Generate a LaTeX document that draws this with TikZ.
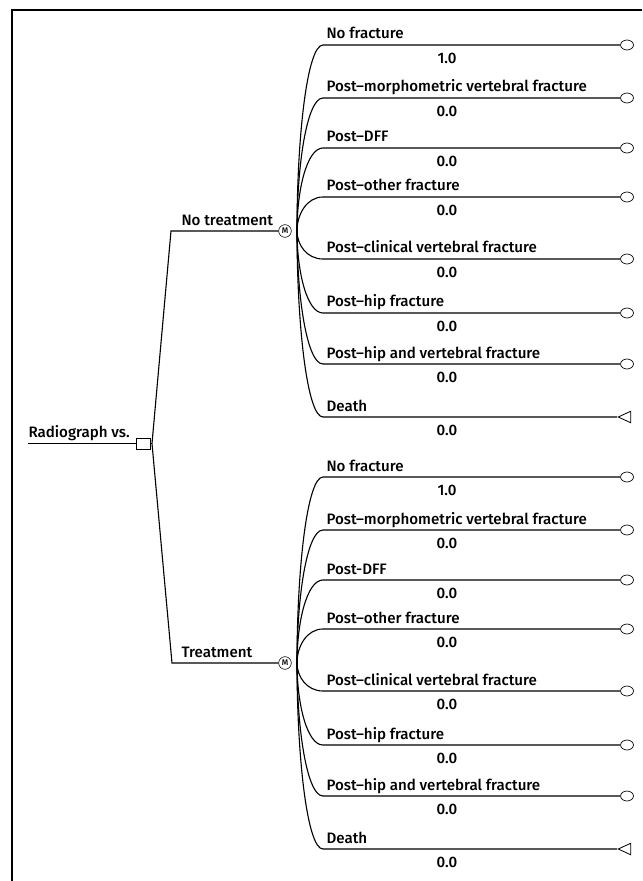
\documentclass[tikz,border=0pt]{standalone}
\usepackage{fontspec}
\setmainfont{Fira Sans}[UprightFont={* Medium}]
\usetikzlibrary{shapes.geometric}
\tikzset{
  lbl/.style={anchor=base west, inner sep=0pt, font=\fontsize{12.9}{15}\selectfont},
  val/.style={anchor=base, inner sep=0pt, font=\fontsize{12.9}{15}\selectfont},
  decision/.style={draw, rectangle, minimum width=12pt, minimum height=9.4pt, inner sep=0pt, line width=0.7pt},
  markov/.style={draw, circle, minimum size=10.8pt, inner sep=0pt, line width=0.5pt, font=\fontsize{7}{7}\selectfont},
  term/.style={draw, ellipse, minimum width=11pt, minimum height=8.5pt, inner sep=0pt, line width=0.6pt},
  deathnode/.style={draw, isosceles triangle, shape border rotate=180, isosceles triangle stretches,
    minimum width=9.8pt, minimum height=10.6pt, inner sep=0pt, line width=0.7pt},
}
\begin{document}
\begin{tikzpicture}[x=0.03cm, y=-0.03cm, line width=0.95pt]
  \useasboundingbox (0,0) rectangle (642,881);
  % Frame
  \draw (12,881) -- (12,10) -- (642,10);
  % Decision
  \coordinate (start) at (28,443.5);
  \node[decision] (root) at (143,443.5) {};
  \node[lbl] (rootlbl) at (28,437.5) {Radiograph vs.};
  \draw (start) -- (root);
  \coordinate (fork) at (152,443.5);
  \draw (root) -- (fork);
  % Strategies
  \node[markov] (m1) at (285,231) {M};
  \node[markov] (m2) at (285,663) {M};
  \coordinate (s1) at (171,231);
  \coordinate (s2) at (172,663);
  \draw (fork) -- (s1) -- (m1);
  \draw (fork) -- (s2) -- (m2);
  \node[lbl] (s1lbl) at (181,225.5) {No treatment};
  \node[lbl] (s2lbl) at (181,657.5) {Treatment};
  % Markov states
  \foreach \m/\yy/\dff in {m1/231/{Post–DFF}, m2/663/{Post-DFF}} {
    \coordinate (\m-fork) at (297,\yy);
    \foreach \lab/\val/\dy/\i/\kind
      [evaluate=\dy as \by using \yy+\dy, evaluate=\dy as \cy using 0.5*\dy] in {
        No fracture/1.0/-186/1/term,
        Post–morphometric vertebral fracture/0.0/-133/2/term,
        \dff/0.0/-83/3/term,
        Post–other fracture/0.0/-34/4/term,
        Post–clinical vertebral fracture/0.0/28/5/term,
        Post–hip fracture/0.0/82/6/term,
        Post–hip and vertebral fracture/0.0/133/7/term,
        Death/0.0/186/8/deathnode} {
      \coordinate (\m-b\i) at (323,\by);
      \node[\kind] (\m-t\i) at (627,\by) {};
      \draw (\m-fork) .. controls +(0,\cy) and +(-16,0) .. (\m-b\i) -- (\m-t\i);
      \node[lbl] (\m-l\i) at (326,{\by-6}) {\lab};
      \node[val] (\m-v\i) at (447,{\by+18.5}) {\val};
    }
  }
\end{tikzpicture}
\end{document}
